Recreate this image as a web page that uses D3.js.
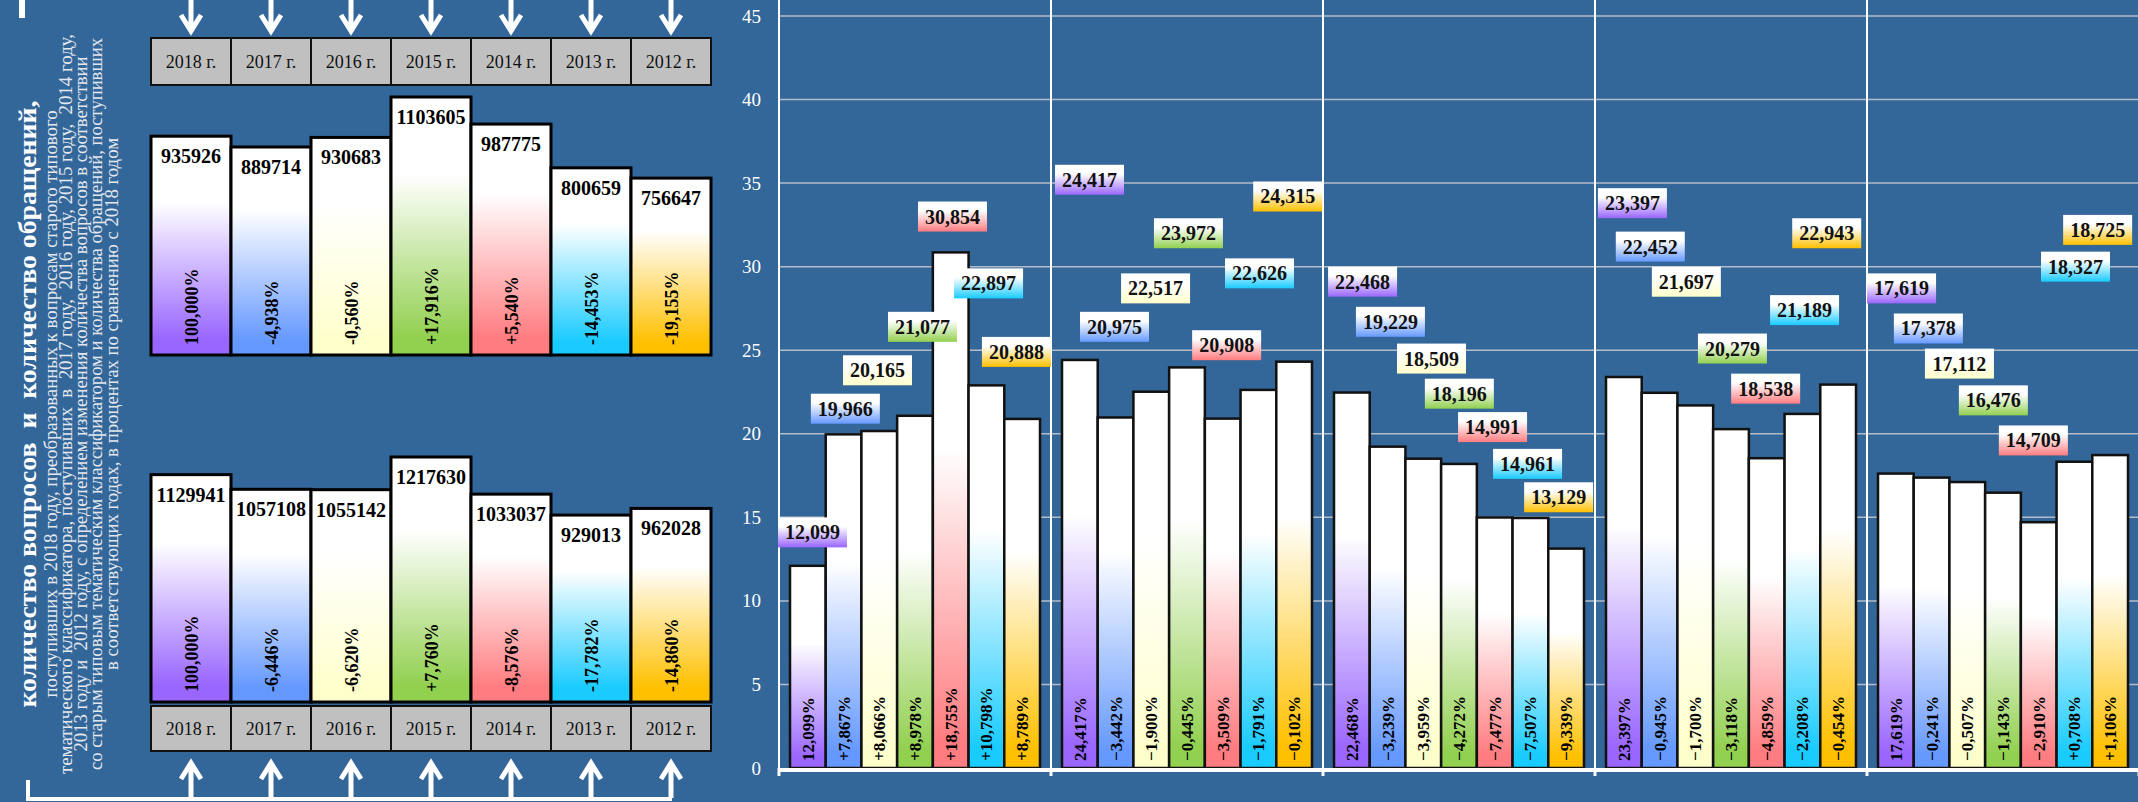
<!DOCTYPE html>
<html>
<head>
<meta charset="utf-8">
<script src="https://cdn.jsdelivr.net/npm/d3@7"></script>
<style>
  body { margin: 0; background: #336699; }
  svg { display: block; font-family: "Liberation Serif", "Times New Roman", serif; }
</style>
</head>
<body>
<svg id="chart" width="2138" height="802"></svg>
<script>
//Years and their colours (same order everywhere)
const years = ['2018 г.', '2017 г.', '2016 г.', '2015 г.', '2014 г.', '2013 г.', '2012 г.'];
const yearColors = ['#9966ff', '#6699ff', '#ffffcc', '#92d050', '#ff7c80', '#19cbff', '#ffc000'];

//Left panel: appeals (top) and questions (bottom)
const appeals = [935926, 889714, 930683, 1103605, 987775, 800659, 756647];
const appealsPct = ['100,000%', '-4,938%', '-0,560%', '+17,916%', '+5,540%', '-14,453%', '-19,155%'];
const questions = [1129941, 1057108, 1055142, 1217630, 1033037, 929013, 962028];
const questionsPct = ['100,000%', '-6,446%', '-6,620%', '+7,760%', '-8,576%', '-17,782%', '-14,860%'];

//Right panel: five groups of shares, one value per year
const group1 = [12.099, 19.966, 20.165, 21.077, 30.854, 22.897, 20.888];
const group2 = [24.417, 20.975, 22.517, 23.972, 20.908, 22.626, 24.315];
const group3 = [22.468, 19.229, 18.509, 18.196, 14.991, 14.961, 13.129];
const group4 = [23.397, 22.452, 21.697, 20.279, 18.538, 21.189, 22.943];
const group5 = [17.619, 17.378, 17.112, 16.476, 14.709, 18.327, 18.725];
const yTicks = [0, 5, 10, 15, 20, 25, 30, 35, 40, 45];

const titleLines = [
    'количество вопросов  и  количество обращений,',
    'поступивших в 2018 году, преобразованных к вопросам старого типового',
    'тематического классификатора, поступивших  в  2017 году,  2016 году, 2015 году,  2014 году,',
    '2013 году и  2012 году, с определением изменения количества вопросов в соответствии',
    'со старым типовым тематическим классификатором и количества обращений, поступивших',
    'в соответствующих годах, в процентах по сравнению с 2018 годом'
];

//Placement of the floating value boxes: shift in bar widths, height in axis units
const boxShift = [
    [0.13, 0.05, -0.05, 0.21, 0.05, 0.06, -0.16],
    [0.27, -0.03, 0.12, 0.04, 0.11, 0.03, -0.18],
    [0.30, 0.08, 0.23, 0.01, -0.06, -0.08, -0.21],
    [0.24, -0.26, -0.25, 0.04, -0.03, 0.06, -0.32],
    [0.16, -0.09, -0.22, -0.27, -0.15, 0.03, -0.35]
];
const boxLevel = [
    [14.1, 21.5, 23.8, 26.4, 33.0, 29.0, 24.9],
    [35.2, 26.4, 28.7, 32.0, 25.3, 29.6, 34.2],
    [29.1, 26.7, 24.5, 22.4, 20.4, 18.2, 16.2],
    [33.8, 31.2, 29.1, 25.1, 22.7, 27.4, 32.0],
    [28.7, 26.3, 24.2, 22.0, 19.6, 30.0, 32.2]
];

const svg = d3.select('#chart');
const defs = svg.append('defs');
const comma = s => s.replace('.', ',');

//Gradients: white on top fading into the year colour at the bottom
function addGradient(id, color, whiteStop, fullStop) {
    const g = defs.append('linearGradient').attr('id', id)
        .attr('x1', 0).attr('y1', 0).attr('x2', 0).attr('y2', 1);
    g.append('stop').attr('offset', 0).attr('stop-color', '#ffffff');
    g.append('stop').attr('offset', whiteStop).attr('stop-color', '#ffffff');
    g.append('stop').attr('offset', fullStop).attr('stop-color', color);
    g.append('stop').attr('offset', 1).attr('stop-color', color);
}
yearColors.forEach((c, i) => {
    addGradient('bar' + i, c, 0.3, 0.93);
    addGradient('col' + i, c, 0.38, 0.95);
    addGradient('box' + i, c, 0.3, 1);
});

/************* Left title (rotated) *************/
const titleX = [36, 57, 72, 87, 102, 118];
const titleLen = [607, 587, 740, 695, 732, 532];
titleLines.forEach((t, i) => {
    const bold = i === 0;
    svg.append('text')
        .attr('transform', 'translate(' + titleX[i] + ',404) rotate(-90)' + (bold ? '' : ' scale(1,1.1)'))
        .attr('text-anchor', 'middle')
        .attr('font-size', bold ? 26 : 17)
        .attr('font-weight', bold ? 'bold' : 'normal')
        .attr('fill', bold ? '#ffffff' : '#e4e8ee')
        .attr('textLength', titleLen[i])
        .attr('lengthAdjust', 'spacingAndGlyphs')
        .style('white-space', 'pre')
        .text(t);
});

//White bracket lines
svg.append('line').attr('x1', 22).attr('x2', 22).attr('y1', 0).attr('y2', 18)
    .attr('stroke', '#fff').attr('stroke-width', 6);
svg.append('path').attr('d', 'M28,780V799H672')
    .attr('fill', 'none').attr('stroke', '#fff').attr('stroke-width', 4);

/************* Left charts *************/
const xLeft = d3.scaleBand().domain(years).range([151, 711]);

function header(y0, h) {
    const g = svg.append('g');
    g.selectAll('rect').data(years).join('rect')
        .attr('x', d => xLeft(d)).attr('y', y0)
        .attr('width', xLeft.bandwidth()).attr('height', h)
        .attr('fill', '#c0c0c0').attr('stroke', '#111').attr('stroke-width', 2);
    g.selectAll('text').data(years).join('text')
        .attr('x', d => xLeft(d) + xLeft.bandwidth() / 2)
        .attr('y', y0 + h / 2 + 6)
        .attr('text-anchor', 'middle').attr('font-size', 18).attr('fill', '#111')
        .text(d => d);
}
header(38, 47);
header(706, 45);

function leftBars(values, pcts, yScale) {
    const g = svg.append('g');
    const bw = xLeft.bandwidth();
    g.selectAll('rect').data(values).join('rect')
        .attr('x', (d, i) => xLeft(years[i])).attr('y', d => yScale(d))
        .attr('width', bw).attr('height', d => yScale(0) - yScale(d))
        .attr('fill', (d, i) => 'url(#bar' + i + ')')
        .attr('stroke', '#000').attr('stroke-width', 3);
    g.selectAll('text.val').data(values).join('text').attr('class', 'val')
        .attr('x', (d, i) => xLeft(years[i]) + bw / 2)
        .attr('y', d => yScale(d) + 27)
        .attr('text-anchor', 'middle').attr('font-size', 20).attr('font-weight', 'bold')
        .text(d => d);
    g.selectAll('text.pct').data(pcts).join('text').attr('class', 'pct')
        .attr('transform', (d, i) => 'translate(' + (xLeft(years[i]) + bw / 2 + 7) + ',' + (yScale(0) - 10) + ') rotate(-90)')
        .attr('font-size', 18).attr('font-weight', 'bold')
        .text(d => d);
}

const yAppeals = d3.scaleLinear().domain([0, d3.max(appeals)]).range([355, 97]);
const yQuestions = d3.scaleLinear().domain([0, d3.max(questions)]).range([702, 457]);
leftBars(appeals, appealsPct, yAppeals);
leftBars(questions, questionsPct, yQuestions);

//Arrows pointing to the year cells
const arrows = svg.append('g').attr('stroke', '#fff').attr('stroke-width', 5).attr('fill', 'none');
years.forEach(d => {
    const cx = xLeft(d) + xLeft.bandwidth() / 2;
    arrows.append('path').attr('d', 'M' + cx + ',0V31M' + (cx - 10) + ',15L' + cx + ',31L' + (cx + 10) + ',15');
    arrows.append('path').attr('d', 'M' + cx + ',798V763M' + (cx - 10) + ',779L' + cx + ',763L' + (cx + 10) + ',779');
});

/************* Right chart *************/
const groups = [group1, group2, group3, group4, group5];
const xG = d3.scaleBand().domain(d3.range(groups.length)).range([779, 2139]);
const xYear = d3.scaleBand().domain(years).range([11, xG.bandwidth() - 11]);
const y = d3.scaleLinear().domain([0, 45]).range([768, 16]);

//Gridlines
svg.append('g').selectAll('line').data(yTicks.slice(1)).join('line')
    .attr('x1', 779).attr('x2', 2138)
    .attr('y1', d => y(d)).attr('y2', d => y(d))
    .attr('stroke', '#b3bdca').attr('stroke-width', 1.5);

//Y axis labels
const yAxis = svg.append('g').attr('transform', 'translate(779,0)')
    .call(d3.axisLeft(y).tickValues(yTicks).tickSize(0).tickPadding(18));
yAxis.select('.domain').remove();
yAxis.selectAll('text')
    .attr('fill', '#ffffff').attr('font-size', 19)
    .attr('font-family', '"Liberation Serif", "Times New Roman", serif');

//Group separators
const bounds = d3.range(groups.length).map(g => xG(g)).concat([xG.range()[1]]);
svg.append('g').selectAll('line').data(bounds).join('line')
    .attr('x1', d => d).attr('x2', d => d).attr('y1', 0).attr('y2', y(0))
    .attr('stroke', '#ffffff').attr('stroke-width', 2);

//Bars
groups.forEach((vals, gi) => {
    const g = svg.append('g').attr('transform', 'translate(' + xG(gi) + ',0)');
    const bw = xYear.bandwidth();
    g.selectAll('rect').data(vals).join('rect')
        .attr('x', (d, i) => xYear(years[i])).attr('y', d => y(d))
        .attr('width', bw).attr('height', d => y(0) - y(d))
        .attr('fill', (d, i) => 'url(#col' + i + ')')
        .attr('stroke', '#111').attr('stroke-width', 2.5);
    g.selectAll('text.pct').data(vals).join('text').attr('class', 'pct')
        .attr('transform', (d, i) => 'translate(' + (xYear(years[i]) + bw / 2 + 6) + ',' + (y(0) - 7) + ') rotate(-90)')
        .attr('font-size', 17).attr('font-weight', 'bold')
        .text((d, i) => i === 0 ? comma(d3.format('.3f')(d)) + '%' : comma(d3.format('+.3f')(d - vals[0])) + '%');

    //Floating value boxes
    const boxes = g.selectAll('g.box').data(vals).join('g').attr('class', 'box')
        .attr('transform', (d, i) => 'translate(' +
            (xYear(years[i]) + bw / 2 + boxShift[gi][i] * bw) + ',' + y(boxLevel[gi][i]) + ')');
    boxes.append('rect')
        .attr('x', -34.5).attr('y', -15).attr('width', 69).attr('height', 30)
        .attr('fill', (d, i) => 'url(#box' + i + ')');
    boxes.append('text')
        .attr('text-anchor', 'middle').attr('y', 7)
        .attr('font-size', 20).attr('font-weight', 'bold').attr('fill', '#111')
        .text(d => comma(d3.format('.3f')(d)));
});

//Bottom axis line with small ticks
svg.append('line').attr('x1', 779).attr('x2', 2138).attr('y1', y(0) + 2).attr('y2', y(0) + 2)
    .attr('stroke', '#ffffff').attr('stroke-width', 4);
svg.append('g').selectAll('line').data(bounds).join('line')
    .attr('x1', d => d).attr('x2', d => d).attr('y1', y(0)).attr('y2', y(0) + 8)
    .attr('stroke', '#ffffff').attr('stroke-width', 3);
</script>
</body>
</html>
